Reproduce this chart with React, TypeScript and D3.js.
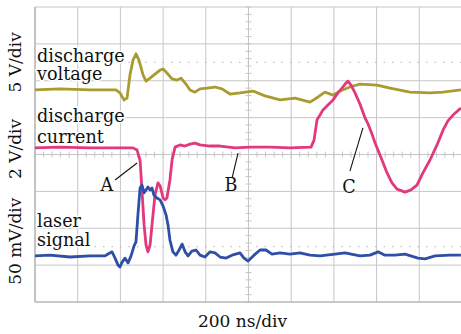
import React, { useEffect, useRef } from 'react';
import * as d3 from 'd3';

// time in ns, amplitude in screen divisions (0 = bottom of screen, 8 = top)
const voltageTrace: [number, number][] = [
  [0, 5.75], [117, 5.78], [258, 5.75], [379, 5.75], [398, 5.67], [417, 5.48], [431, 5.53],
  [445, 6.16], [459, 6.56], [473, 6.73], [487, 6.56], [506, 6.16], [520, 5.99], [539, 6.07],
  [562, 6.18], [586, 6.29], [600, 6.32], [618, 6.21], [642, 6.05], [665, 6.02], [684, 6.07],
  [707, 5.91], [726, 5.75], [749, 5.69], [773, 5.78], [806, 5.80], [843, 5.83], [876, 5.78],
  [913, 5.64], [960, 5.67], [1021, 5.72], [1077, 5.59], [1148, 5.48], [1218, 5.53], [1288, 5.42],
  [1326, 5.56], [1358, 5.69], [1396, 5.61], [1429, 5.72], [1475, 5.83], [1522, 5.91], [1602, 5.88],
  [1663, 5.80], [1756, 5.69], [1850, 5.67], [1911, 5.69], [1995, 5.75]
];

const currentTrace: [number, number][] = [
  [0, 4.18], [117, 4.20], [258, 4.18], [398, 4.18], [459, 4.18], [478, 4.12], [492, 3.85],
  [501, 3.04], [511, 2.09], [520, 1.55], [529, 1.36], [539, 1.55], [548, 2.09], [562, 2.90],
  [576, 3.23], [586, 3.15], [600, 2.82], [609, 2.77], [618, 2.82], [632, 3.31], [642, 3.85],
  [656, 4.20], [679, 4.26], [703, 4.23], [726, 4.28], [749, 4.31], [773, 4.26], [820, 4.23],
  [867, 4.23], [937, 4.18], [1007, 4.20], [1101, 4.20], [1194, 4.18], [1293, 4.20], [1307, 4.39],
  [1321, 4.94], [1335, 5.07], [1349, 5.21], [1372, 5.34], [1396, 5.48], [1419, 5.67], [1438, 5.80],
  [1457, 5.94], [1466, 5.99], [1480, 5.88], [1499, 5.67], [1522, 5.37], [1546, 4.99], [1560, 4.83],
  [1578, 4.56], [1593, 4.31], [1621, 3.91], [1649, 3.50], [1672, 3.23], [1696, 3.06], [1733, 2.98],
  [1761, 3.04], [1789, 3.17], [1817, 3.50], [1850, 3.85], [1883, 4.26], [1911, 4.66], [1934, 4.91],
  [1958, 5.07], [1995, 5.26]
];

const laserTrace: [number, number][] = [
  [0, 1.25], [70, 1.27], [164, 1.22], [258, 1.25], [328, 1.25], [342, 1.30], [361, 1.36],
  [375, 1.19], [389, 1.00], [398, 0.95], [408, 1.08], [422, 1.19], [436, 1.06], [450, 1.25],
  [464, 1.52], [473, 1.63], [482, 2.36], [492, 3.09], [501, 3.17], [511, 2.96], [520, 3.04],
  [529, 3.12], [539, 3.04], [548, 3.09], [557, 2.90], [571, 2.82], [586, 2.77], [600, 2.60],
  [614, 2.36], [623, 2.09], [632, 1.68], [646, 1.36], [660, 1.27], [675, 1.41], [689, 1.57],
  [703, 1.36], [717, 1.25], [735, 1.38], [754, 1.41], [773, 1.27], [796, 1.22], [820, 1.36],
  [843, 1.33], [867, 1.22], [895, 1.19], [923, 1.27], [960, 1.33], [979, 1.19], [998, 1.11],
  [1026, 1.27], [1054, 1.41], [1082, 1.41], [1110, 1.30], [1148, 1.33], [1194, 1.30], [1241, 1.33],
  [1288, 1.27], [1335, 1.25], [1405, 1.30], [1452, 1.33], [1522, 1.25], [1569, 1.27], [1607, 1.36],
  [1639, 1.27], [1686, 1.27], [1733, 1.30], [1794, 1.19], [1827, 1.17], [1874, 1.25], [1944, 1.27],
  [1995, 1.27]
];

// marker letter: text anchor point and leader line (from, to), all in [ns, div]
const markers = [
  { label: 'A', text: [337, 3.01], from: [375, 3.31], to: [478, 3.77] },
  { label: 'B', text: [918, 3.01], from: [923, 3.36], to: [951, 4.04] },
  { label: 'C', text: [1471, 2.96], from: [1475, 3.55], to: [1536, 4.72] }
];

const traceLabels = [
  { lines: ['discharge', 'voltage'], at: [6.51, 6.02] },
  { lines: ['discharge', 'current'], at: [4.87, 4.31] },
  { lines: ['laser', 'signal'], at: [2.04, 1.52] }
];

const scaleLabels = [
  { text: '5 V/div', center: 6.5 },
  { text: '2 V/div', center: 4.15 },
  { text: '50 mV/div', center: 1.65 }
];

const timeLabel = '200 ns/div';
const dottedLevels = [6.5, 1.5];

const W = 461;
const H = 334;
const FONT = "'DejaVu Serif', serif";

export default function App() {
  const svgRef = useRef<SVGSVGElement>(null);

  useEffect(() => {
    if (!svgRef.current) return;
    const svg = d3.select(svgRef.current);
    svg.selectAll('*').remove();

    const margin = { top: 7, right: -1, bottom: 32, left: 35 };
    const x = d3.scaleLinear().domain([0, 2000]).range([margin.left, W - margin.right]);
    const y = d3.scaleLinear().domain([0, 8]).range([H - margin.bottom, margin.top]);

    svg.append('rect').attr('width', W).attr('height', H).attr('fill', '#fff');

    const grid = svg.append('g');
    const gridColor = '#c6c6c6';

    // major grid
    grid.selectAll('.vx')
      .data(d3.range(0, 2001, 200))
      .enter().append('line')
      .attr('x1', d => x(d)).attr('x2', d => x(d))
      .attr('y1', y(0)).attr('y2', y(8))
      .attr('stroke', gridColor).attr('stroke-width', 1);

    grid.selectAll('.hy')
      .data(d3.range(0, 9, 1))
      .enter().append('line')
      .attr('x1', x(0)).attr('x2', x(2000))
      .attr('y1', d => y(d)).attr('y2', d => y(d))
      .attr('stroke', gridColor).attr('stroke-width', 1);

    // dotted reference levels
    grid.selectAll('.dot')
      .data(dottedLevels)
      .enter().append('line')
      .attr('x1', x(0)).attr('x2', x(2000))
      .attr('y1', d => y(d)).attr('y2', d => y(d))
      .attr('stroke', '#b5b5b5').attr('stroke-width', 1)
      .attr('stroke-dasharray', '1.5,7');

    // minor ticks on centre axes
    grid.selectAll('.tx')
      .data(d3.range(0, 2001, 40))
      .enter().append('line')
      .attr('x1', d => x(d)).attr('x2', d => x(d))
      .attr('y1', y(4) - 3).attr('y2', y(4) + 3)
      .attr('stroke', gridColor).attr('stroke-width', 1);

    grid.selectAll('.ty')
      .data(d3.range(0, 8.01, 0.2))
      .enter().append('line')
      .attr('x1', x(1000) - 3).attr('x2', x(1000) + 3)
      .attr('y1', d => y(d)).attr('y2', d => y(d))
      .attr('stroke', gridColor).attr('stroke-width', 1);

    // frame
    svg.append('path')
      .attr('d', `M${x(0)},${y(8)}V${y(0)}H${x(2000)}`)
      .attr('fill', 'none').attr('stroke', '#b0b0b0').attr('stroke-width', 1.2);

    // trace labels
    traceLabels.forEach(t => {
      t.lines.forEach((line, i) => {
        svg.append('text')
          .attr('x', x(0) + 2)
          .attr('y', y(t.at[i]))
          .attr('font-family', FONT)
          .attr('font-size', 17.6)
          .attr('fill', '#111')
          .attr('stroke', '#fff').attr('stroke-width', 3)
          .attr('paint-order', 'stroke')
          .text(line);
      });
    });

    const line = d3.line<[number, number]>()
      .x(d => x(d[0]))
      .y(d => y(d[1]));

    const traces: { data: [number, number][]; color: string }[] = [
      { data: voltageTrace, color: '#a99b2e' },
      { data: currentTrace, color: '#e2387c' },
      { data: laserTrace, color: '#2f4ea6' }
    ];

    traces.forEach(tr => {
      svg.append('path')
        .datum(tr.data)
        .attr('d', line)
        .attr('fill', 'none')
        .attr('stroke', tr.color)
        .attr('stroke-width', 2.8)
        .attr('stroke-linejoin', 'round');
    });

    // markers A, B, C
    markers.forEach(m => {
      svg.append('line')
        .attr('x1', x(m.from[0])).attr('y1', y(m.from[1]))
        .attr('x2', x(m.to[0])).attr('y2', y(m.to[1]))
        .attr('stroke', '#111').attr('stroke-width', 1.1);
      svg.append('text')
        .attr('x', x(m.text[0]))
        .attr('y', y(m.text[1]))
        .attr('text-anchor', 'middle')
        .attr('font-family', FONT)
        .attr('font-size', 17.6)
        .attr('fill', '#111')
        .text(m.label);
    });

    // division labels
    scaleLabels.forEach(s => {
      svg.append('text')
        .attr('transform', `translate(21,${y(s.center)}) rotate(-90)`)
        .attr('text-anchor', 'middle')
        .attr('font-family', FONT)
        .attr('font-size', 17)
        .attr('fill', '#111')
        .text(s.text);
    });

    svg.append('text')
      .attr('x', x(1000) - 6)
      .attr('y', H - 7)
      .attr('text-anchor', 'middle')
      .attr('font-family', FONT)
      .attr('font-size', 17)
      .attr('fill', '#111')
      .text(timeLabel);
  }, []);

  return (
    <svg
      ref={svgRef}
      width={W}
      height={H}
      style={{ position: 'absolute', left: 0, top: 0, display: 'block' }}
    />
  );
}
